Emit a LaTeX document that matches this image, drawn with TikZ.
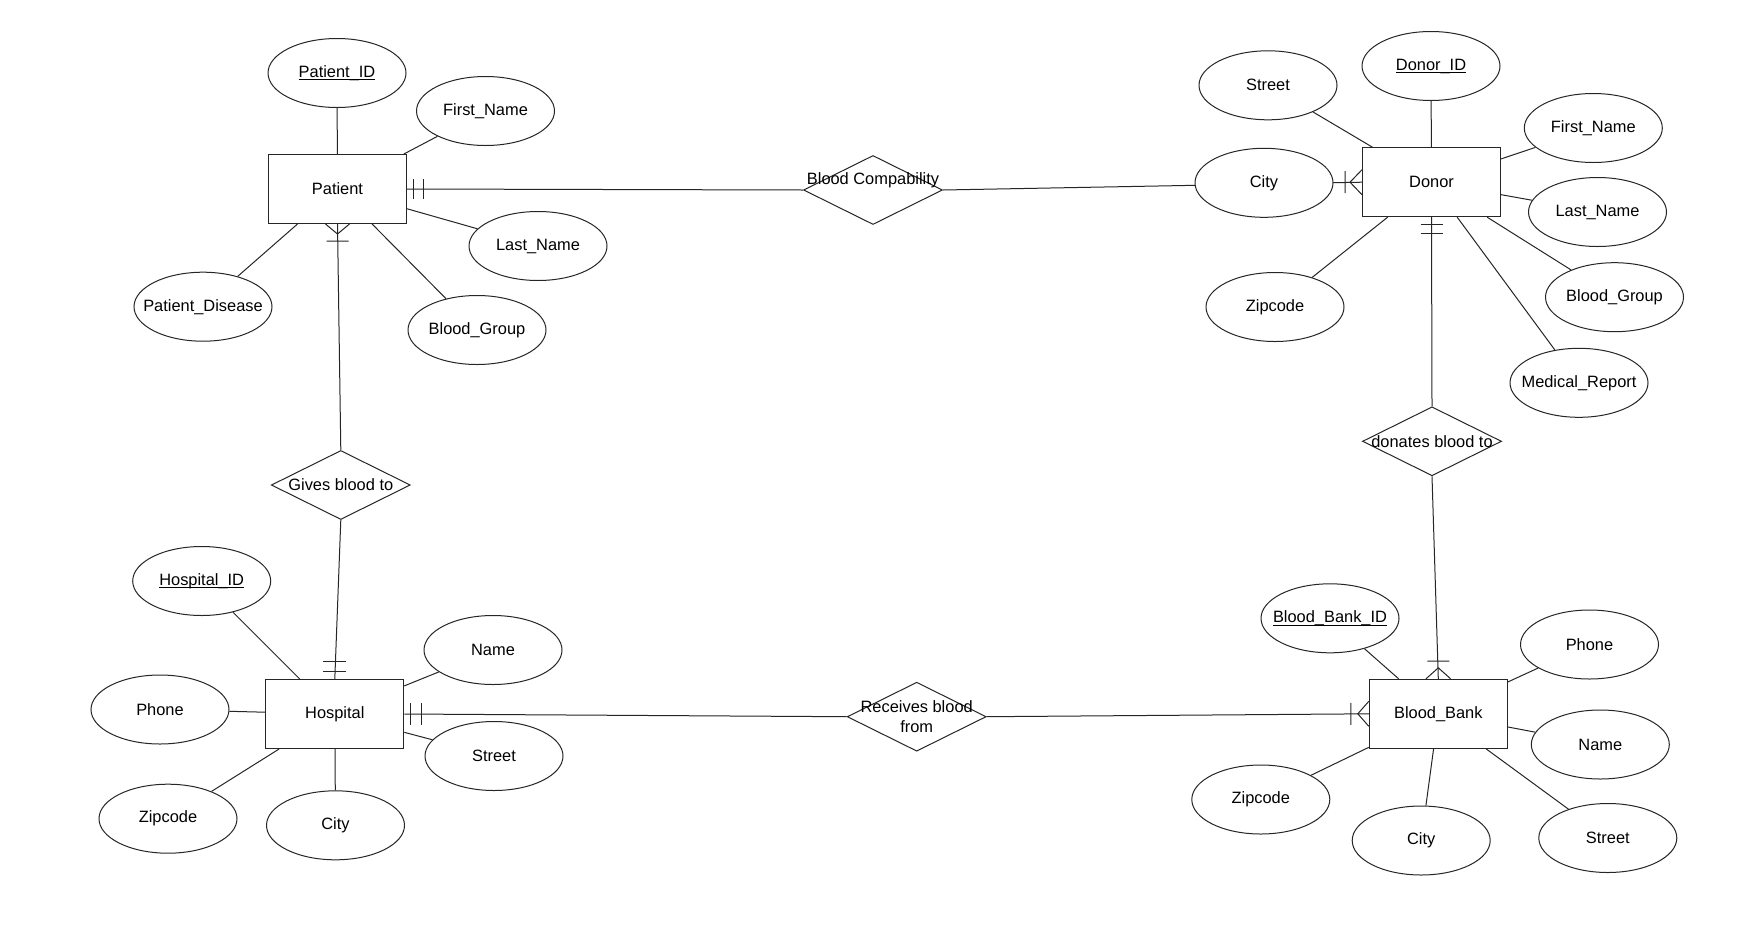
\documentclass[tikz,border=0pt]{standalone}
\usepackage{fontspec}
\setmainfont{Liberation Sans}
\usetikzlibrary{shapes.geometric,backgrounds}
\newcommand\myul[1]{\setbox0=\hbox{#1}\rlap{\rule[-3pt]{\wd0}{1pt}}\box0}
\newcommand\zb[1]{\makebox[0pt]{#1}}
\begin{document}
\begin{tikzpicture}[x=1pt,y=-1pt,
  every node/.style={font=\fontsize{16.4}{19.4}\selectfont, text=black},
  ent/.style={draw=black!85, fill=white, minimum width=138pt, minimum height=69pt, inner sep=0pt, line width=1pt},
  attr/.style={ellipse, draw=black!85, fill=white, minimum width=138pt, minimum height=69pt, inner sep=0pt, line width=1pt},
  rel/.style={diamond, draw=black!85, fill=white, minimum width=139pt, minimum height=69pt, inner sep=0pt, line width=1pt},
  lbl/.style={inner sep=0pt, align=center},
  conn/.style={draw=black!85, line width=1pt},
]
\useasboundingbox (0,0) rectangle (1742,932);

% ---------- Patient ----------
\node[ent] (patient) at (337.5,189) {Patient};
\node[attr] (pid) at (337,73) {\zb{\myul{Patient\_ID}}};
\node[attr] (pfn) at (485.5,111) {\zb{First\_Name}};
\node[attr] (pln) at (538,246) {\zb{Last\_Name}};
\node[attr] (pdis) at (203,306.7) {\zb{Patient\_Disease}};
\node[attr] (pbg) at (477,330) {\zb{Blood\_Group}};

% ---------- Donor ----------
\node[ent] (donor) at (1431.5,182.2) {Donor};
\node[attr] (did) at (1431,66) {\zb{\myul{Donor\_ID}}};
\node[attr] (dst) at (1268,85.3) {\zb{Street}};
\node[attr] (dcity) at (1264,182.8) {\zb{City}};
\node[attr] (dfn) at (1593.3,128) {\zb{First\_Name}};
\node[attr] (dln) at (1597.5,212) {\zb{Last\_Name}};
\node[attr] (dbg) at (1614.5,297.2) {\zb{Blood\_Group}};
\node[attr] (dmr) at (1579,382.8) {\zb{Medical\_Report}};
\node[attr] (dzip) at (1275,307) {\zb{Zipcode}};

% ---------- Hospital ----------
\node[ent] (hospital) at (334.8,714) {Hospital};
\node[attr] (hid) at (201.7,581) {\zb{\myul{Hospital\_ID}}};
\node[attr] (hname) at (493,650) {\zb{Name}};
\node[attr] (hph) at (160,709.5) {\zb{Phone}};
\node[attr] (hst) at (494,756) {\zb{Street}};
\node[attr] (hzip) at (168,818.7) {\zb{Zipcode}};
\node[attr] (hcity) at (335.5,825.3) {\zb{City}};

% ---------- Blood_Bank ----------
\node[ent] (bank) at (1438.3,713.8) {Blood\_Bank};
\node[attr] (bid) at (1330,618.3) {\zb{\myul{Blood\_Bank\_ID}}};
\node[attr] (bph) at (1589.5,644.5) {\zb{Phone}};
\node[attr] (bname) at (1600.3,744.5) {\zb{Name}};
\node[attr] (bzip) at (1260.8,799.5) {\zb{Zipcode}};
\node[attr] (bcity) at (1421.2,840.5) {\zb{City}};
\node[attr] (bst) at (1607.8,838) {\zb{Street}};

% ---------- Relationships ----------
\node[rel, label={[lbl, yshift=10pt]center:Blood Compability}] (bc) at (873,190) {};
\node[rel, label={[lbl]center:Gives blood to}] (gb) at (340.8,485) {};
\node[rel, label={[lbl]center:donates blood to}] (db) at (1432,441.3) {};
\node[rel, label={[lbl]center:Receives blood\\from}] (rf) at (916.7,716.7) {};

\begin{pgfonlayer}{background}
\fill[white] (0,0) rectangle (1742,932);
% attribute lines
\foreach \a in {pid,pfn,pln,pdis,pbg} \draw[conn] (patient) -- (\a);
\foreach \a in {did,dst,dfn,dln,dbg,dmr,dzip} \draw[conn] (donor) -- (\a);
\foreach \a in {hid,hname,hph,hst,hzip,hcity} \draw[conn] (hospital) -- (\a);
\foreach \a in {bid,bph,bname,bzip,bcity,bst} \draw[conn] (bank) -- (\a);
% relationship lines
\draw[conn] (patient.east) -- (bc.west);
\draw[conn] (bc.east) -- (donor.west);
\draw[conn] (patient.south) -- (gb.north);
\draw[conn] (gb.south) -- (hospital.north);
\draw[conn] (hospital.east) -- (rf.west);
\draw[conn] (rf.east) -- (bank.west);
\draw[conn] (donor.south) -- (db.north);
\draw[conn] (db.south) -- (bank.north);
\end{pgfonlayer}

% ---------- cardinality markers ----------
% Patient east: mandatory one
\draw[conn] (patient.east) ++(6.7,-10) -- ++(0,20) (patient.east) ++(16.7,-10) -- ++(0,20);
% Hospital east: mandatory one
\draw[conn] (hospital.east) ++(6,-11) -- ++(0,22) (hospital.east) ++(16.7,-11) -- ++(0,22);
% Hospital north: mandatory one
\draw[conn] (hospital.north) ++(-11.5,-8) -- ++(23,0) (hospital.north) ++(-11.5,-18) -- ++(23,0);
% Donor south: mandatory one
\draw[conn] (donor.south) ++(-11,7.3) -- ++(22,0) (donor.south) ++(-11,16.7) -- ++(22,0);
% Patient south: one to many
\draw[conn] (patient.south) ++(-12,0) -- ++(12,10) -- ++(12,-10) (patient.south) ++(-11,17) -- ++(22,0);
% Donor west: one to many
\draw[conn] (donor.west) ++(0,-12.5) -- ++(-12,12.5) -- ++(12,12.5) (donor.west) ++(-17,-11) -- ++(0,22);
% Blood_Bank north: one to many
\draw[conn] (bank.north) ++(-12.3,0) -- ++(12.3,-11) -- ++(12.3,11) (bank.north) ++(-11,-17.6) -- ++(22,0);
% Blood_Bank west: one to many
\draw[conn] (bank.west) ++(0,-12.5) -- ++(-11,12.5) -- ++(11,12.5) (bank.west) ++(-18,-11) -- ++(0,22);
\end{tikzpicture}
\end{document}
